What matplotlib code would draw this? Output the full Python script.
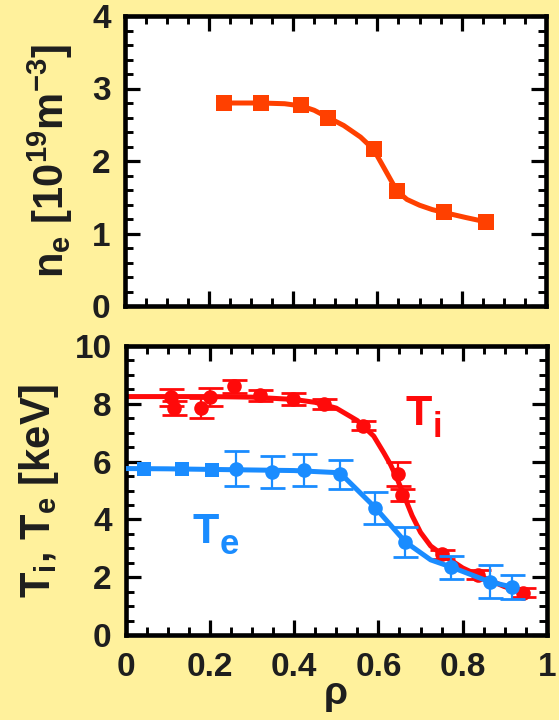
import matplotlib
matplotlib.use("Agg")
import matplotlib.pyplot as plt
from matplotlib.ticker import MultipleLocator

plt.rcParams['font.family'] = ['Liberation Sans', 'DejaVu Sans']
plt.rcParams['font.weight'] = 'bold'
plt.rcParams['mathtext.fontset'] = 'custom'
plt.rcParams['mathtext.rm'] = 'Liberation Sans:bold'
plt.rcParams['mathtext.bf'] = 'Liberation Sans:bold'
plt.rcParams['mathtext.it'] = 'Liberation Sans:bold'
plt.rcParams['mathtext.sf'] = 'Liberation Sans:bold'
plt.rcParams['mathtext.default'] = 'bf'

# ---- electron density profile ----
ne_rho = [0.235, 0.323, 0.419, 0.483, 0.591, 0.646, 0.758, 0.858]
ne_val = [2.80, 2.80, 2.77, 2.59, 2.16, 1.59, 1.29, 1.16]
ne_fit_rho = [0.235, 0.323, 0.38, 0.419, 0.45, 0.483, 0.52, 0.56, 0.591, 0.62, 0.646,
              0.67, 0.70, 0.73, 0.758, 0.81, 0.858]
ne_fit_val = [2.80, 2.80, 2.79, 2.76, 2.70, 2.60, 2.49, 2.33, 2.16, 1.86, 1.59,
              1.47, 1.39, 1.33, 1.29, 1.22, 1.16]

# ---- ion temperature ----
ti_rho = [0.107, 0.115, 0.178, 0.200, 0.257, 0.320, 0.398, 0.471, 0.564, 0.646, 0.656, 0.751, 0.836, 0.943]
ti_val = [8.23, 7.85, 7.85, 8.23, 8.60, 8.29, 8.17, 7.98, 7.24, 5.56, 4.84, 2.79, 2.09, 1.47]
ti_err = [0.29, 0.25, 0.35, 0.32, 0.22, 0.18, 0.20, 0.17, 0.15, 0.42, 0.20, 0.15, 0.15, 0.15]
ti_fit_rho = [0.0, 0.1, 0.2, 0.3, 0.4, 0.45, 0.5, 0.55, 0.589, 0.613, 0.629, 0.646, 0.656,
              0.68, 0.70, 0.724, 0.751, 0.80, 0.834, 0.898, 0.943]
ti_fit_val = [8.25, 8.25, 8.25, 8.23, 8.15, 8.05, 7.85, 7.42, 6.88, 6.30, 5.89, 5.35, 5.00,
              4.13, 3.55, 3.08, 2.79, 2.32, 2.09, 1.68, 1.47]

# ---- electron temperature ----
te_sq_rho = [0.043, 0.135, 0.206]
te_sq_val = [5.75, 5.74, 5.72]
te_rho = [0.261, 0.348, 0.423, 0.508, 0.593, 0.664, 0.773, 0.864, 0.917]
te_val = [5.75, 5.65, 5.70, 5.56, 4.40, 3.22, 2.35, 1.84, 1.66]
te_err = [0.60, 0.55, 0.55, 0.50, 0.55, 0.53, 0.40, 0.57, 0.42]
te_fit_rho = [0.0, 0.1, 0.2, 0.3, 0.4, 0.5, 0.52, 0.593, 0.664, 0.724, 0.773, 0.864, 0.917]
te_fit_val = [5.76, 5.75, 5.73, 5.71, 5.69, 5.62, 5.45, 4.40, 3.22, 2.60, 2.35, 1.84, 1.66]

BG = '#fff19c'
TXT = '#1e1e1e'
C_NE = '#ff4000'
C_TI = '#ff0a0a'
C_TE = '#1a8cff'

W, H = 559, 720
fig = plt.figure(figsize=(W / 100, H / 100), dpi=100, facecolor=BG)

def frac(l, t, r, b):
    return [l / W, 1 - b / H, (r - l) / W, (b - t) / H]

ax1 = fig.add_axes(frac(124.5, 16, 546, 306))
ax2 = fig.add_axes(frac(125.5, 346, 547, 635))

for ax in (ax1, ax2):
    ax.set_facecolor('white')
    for s in ax.spines.values():
        s.set_linewidth(3.3)
        s.set_color('black')
    ax.set_xlim(0, 1)
    ax.xaxis.set_major_locator(MultipleLocator(0.2))
    ax.xaxis.set_minor_locator(MultipleLocator(0.05))
    ax.tick_params(which='both', direction='in', top=True, right=True,
                   colors='black', labelcolor=TXT, labelsize=24)
    ax.tick_params(which='major', length=11, width=2.3)
    ax.tick_params(which='minor', length=6, width=2.1)
    ax.tick_params(axis='y', pad=10)
    ax.tick_params(axis='x', pad=12)

# top panel
ax1.set_ylim(0, 4)
ax1.yaxis.set_major_locator(MultipleLocator(1))
ax1.yaxis.set_minor_locator(MultipleLocator(0.2))
ax1.tick_params(labelbottom=False)
ax1.plot(ne_fit_rho, ne_fit_val, color=C_NE, lw=3.6, solid_capstyle='round',
         solid_joinstyle='round', zorder=2)
ax1.plot(ne_rho, ne_val, 's', color=C_NE, ms=11.5, mew=0, zorder=3)
ax1.set_ylabel(r'n$_{e}$ [10$^{19}$m$^{-3}$]', fontsize=30, color=TXT,
               fontweight='bold', labelpad=12)

# bottom panel
ax2.set_ylim(0, 10)
ax2.yaxis.set_major_locator(MultipleLocator(2))
ax2.yaxis.set_minor_locator(MultipleLocator(0.5))
ax2.set_xticks([0, 0.2, 0.4, 0.6, 0.8, 1.0])
ax2.set_xticklabels(['0', '0.2', '0.4', '0.6', '0.8', '1'])

ax2.plot(ti_fit_rho, ti_fit_val, color=C_TI, lw=3.6, solid_capstyle='round',
         solid_joinstyle='round', zorder=2)
ax2.errorbar(ti_rho, ti_val, yerr=ti_err, fmt='none', ecolor=C_TI,
             elinewidth=1.6, capsize=9, capthick=2.0, zorder=3)
ax2.plot(ti_rho, ti_val, 'o', color=C_TI, ms=10.5, mew=0, zorder=3)

ax2.plot(te_fit_rho, te_fit_val, color=C_TE, lw=3.6, solid_capstyle='round',
         solid_joinstyle='round', zorder=4)
ax2.plot(te_sq_rho, te_sq_val, 's', color=C_TE, ms=10.5, mew=0, zorder=5)
ax2.errorbar(te_rho, te_val, yerr=te_err, fmt='none', ecolor=C_TE,
             elinewidth=1.6, capsize=9, capthick=2.0, zorder=5)
ax2.plot(te_rho, te_val, 'o', color=C_TE, ms=10.5, mew=0, zorder=5)

ax2.set_ylabel(r'T$_{i}$, T$_{e}$ [keV]', fontsize=30, color=TXT,
               fontweight='bold', labelpad=10)
ax2.set_xlabel('ρ', fontsize=28, color=TXT, fontweight='bold', labelpad=-5)

for ax in (ax1, ax2):
    for lab in ax.get_xticklabels() + ax.get_yticklabels():
        lab.set_fontweight('bold')

# curve labels: large T with a dropped subscript
def curve_label(x, y, sub, color):
    ax2.text(x, y, 'T', color=color, fontsize=31, fontweight='bold',
             ha='left', va='baseline')
    ax2.annotate(sub, xy=(x, y), xycoords='data', xytext=(19, -8),
                 textcoords='offset points', color=color, fontsize=25,
                 fontweight='bold', ha='left', va='baseline')

curve_label(0.665, 7.25, 'i', C_TI)
curve_label(0.160, 3.20, 'e', C_TE)

fig.savefig('out.png', dpi=100, facecolor=BG)
